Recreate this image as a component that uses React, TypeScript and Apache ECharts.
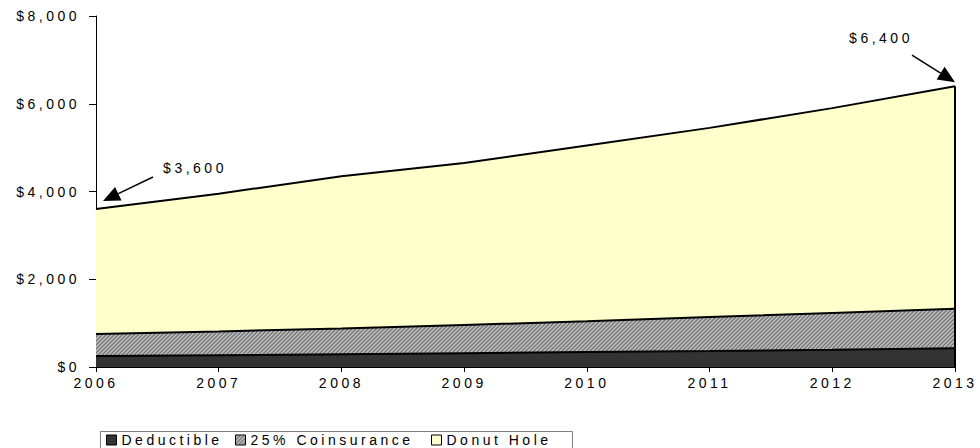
import React, { useEffect, useRef } from "react";
import * as echarts from "echarts";

const years = ["2006", "2007", "2008", "2009", "2010", "2011", "2012", "2013"];
const deductible = [250, 270, 290, 315, 340, 365, 395, 430];
const coinsurance = [500, 540, 590, 645, 700, 775, 835, 900];
const donutHole = [2850, 3140, 3470, 3690, 4010, 4310, 4670, 5070];
const seriesNames = ["Deductible", "25% Coinsurance", "Donut Hole"];
const yMax = 8000;
const yInterval = 2000;
const calloutIndices = [0, 7];

const fmt = (v: number) => "$" + v.toLocaleString("en-US");

function makeHatch(): HTMLCanvasElement {
  const c = document.createElement("canvas");
  c.width = 4;
  c.height = 4;
  const ctx = c.getContext("2d")!;
  ctx.fillStyle = "#9c9c9c";
  ctx.fillRect(0, 0, 4, 4);
  for (let x = 0; x < 4; x++) {
    for (let y = 0; y < 4; y++) {
      const k = (x + y) % 4;
      if (k === 0) {
        ctx.fillStyle = "#767676";
        ctx.fillRect(x, y, 1, 1);
      } else if (k === 2) {
        ctx.fillStyle = "#c4c4c4";
        ctx.fillRect(x, y, 1, 1);
      }
    }
  }
  return c;
}

export default function App() {
  const ref = useRef<HTMLDivElement>(null);
  useEffect(() => {
    const chart = echarts.init(ref.current!, null, { renderer: "svg" });
    const hatch = { image: makeHatch(), repeat: "repeat" } as any;
    const fills = ["#333333", hatch, "#FFFFCC"];
    const data = [deductible, coinsurance, donutHole];
    const totals = years.map((_, i) => deductible[i] + coinsurance[i] + donutHole[i]);
    const font = "'Liberation Sans', Arial, sans-serif";
    const legendLefts = [106, 235, 431];

    chart.setOption({
      animation: false,
      textStyle: { fontFamily: font, color: "#000" },
      grid: { left: 96, right: 25, top: 16, bottom: 81, containLabel: false },
      xAxis: {
        type: "category",
        data: years,
        boundaryGap: false,
        axisLine: { lineStyle: { color: "#000", width: 1 } },
        axisTick: { show: true, length: 5, lineStyle: { color: "#000" } },
        axisLabel: { color: "#000", fontSize: 14, margin: 9, fontFamily: font },
        splitLine: { show: false },
      },
      yAxis: {
        type: "value",
        min: 0,
        max: yMax,
        interval: yInterval,
        axisLine: { show: true, lineStyle: { color: "#000", width: 1 } },
        axisTick: { show: true, length: 7, lineStyle: { color: "#000" } },
        axisLabel: { color: "#000", fontSize: 14, margin: 16, fontFamily: font, formatter: (v: number) => fmt(v) },
        splitLine: { show: false },
      },
      legend: seriesNames.map((n, i) => ({
        left: legendLefts[i],
        top: 433,
        orient: "horizontal",
        icon: "rect",
        itemWidth: 10,
        itemHeight: 10,
        padding: 0,
        data: [{ name: n, itemStyle: { color: fills[i], borderColor: "#000", borderWidth: 1 } }],
        textStyle: { fontSize: 14, color: "#000", fontFamily: font },
      })),
      series: seriesNames.map((name, i) => ({
        name,
        type: "line",
        stack: "total",
        data: data[i],
        symbol: "none",
        lineStyle: { color: "#000", width: 2 },
        itemStyle: { color: i === 1 ? "#9c9c9c" : fills[i] },
        areaStyle: { color: fills[i], opacity: 1 },
        z: 2,
        markLine:
          i === 2
            ? {
                silent: true,
                symbol: ["none", "none"],
                label: { show: false },
                lineStyle: { color: "#000", width: 2, type: "solid" },
                data: [
                  [
                    { coord: [years[years.length - 1], 0] },
                    { coord: [years[years.length - 1], totals[totals.length - 1]] },
                  ],
                ],
              }
            : undefined,
      })),
    });

    const specs = [
      { tipOff: [7, -8], startOff: [57, -32], textOff: [99, -41] },
      { tipOff: [0, -4], startOff: [-43, -31], textOff: [-74, -48] },
    ];
    const graphics: any[] = [
      {
        type: "rect",
        shape: { x: 100.5, y: 431.5, width: 472, height: 30 },
        style: { fill: "none", stroke: "#808080", lineWidth: 1 },
        z: 0,
        silent: true,
      },
    ];
    calloutIndices.forEach((idx, k) => {
      const p = chart.convertToPixel({ gridIndex: 0 }, [years[idx], totals[idx]]) as number[];
      const s = specs[k];
      const tip = [p[0] + s.tipOff[0], p[1] + s.tipOff[1]];
      const start = [p[0] + s.startOff[0], p[1] + s.startOff[1]];
      const dx = tip[0] - start[0];
      const dy = tip[1] - start[1];
      const len = Math.hypot(dx, dy);
      const ux = dx / len;
      const uy = dy / len;
      const L = 17;
      const W = 7.5;
      const base = [tip[0] - ux * L, tip[1] - uy * L];
      graphics.push({
        type: "line",
        shape: { x1: start[0], y1: start[1], x2: base[0], y2: base[1] },
        style: { stroke: "#000", lineWidth: 1.5 },
        z: 10,
      });
      graphics.push({
        type: "polygon",
        shape: {
          points: [
            tip,
            [base[0] - uy * W, base[1] + ux * W],
            [base[0] + uy * W, base[1] - ux * W],
          ],
        },
        style: { fill: "#000" },
        z: 10,
      });
      graphics.push({
        type: "text",
        x: p[0] + s.textOff[0],
        y: p[1] + s.textOff[1],
        style: {
          text: fmt(totals[idx]),
          fontSize: 14,
          fontFamily: font,
          fill: "#000",
          align: "center",
          verticalAlign: "middle",
        },
        z: 10,
      });
    });
    chart.setOption({ graphic: graphics });

    return () => chart.dispose();
  }, []);

  return (
    <div
      ref={ref}
      style={{
        position: "fixed",
        left: 0,
        top: 0,
        width: 980,
        height: 448,
        background: "#fff",
        letterSpacing: "3.5px",
      }}
    />
  );
}
